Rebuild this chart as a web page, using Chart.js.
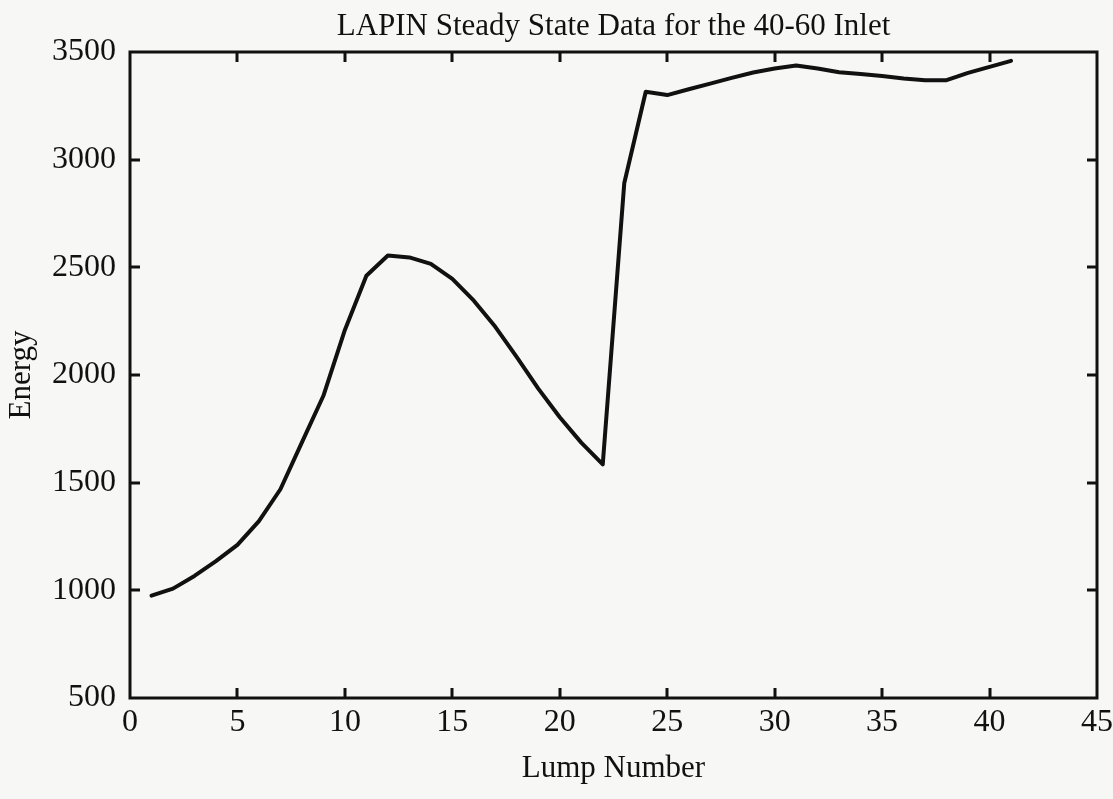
<!DOCTYPE html>
<html>
<head>
<meta charset="utf-8">
<script src="https://cdn.jsdelivr.net/npm/chart.js@4/dist/chart.umd.min.js"></script>
<style>
  html, body { margin: 0; padding: 0; background: #f7f7f5; }
  #wrap { width: 1113px; height: 799px; }
</style>
</head>
<body>
<div id="wrap"><canvas id="c" width="1113" height="799"></canvas></div>
<script>
// ---- Data ----
const lumps = [1, 2, 3, 4, 5, 6, 7, 8, 9, 10, 11, 12, 13, 14, 15, 16, 17, 18, 19, 20,
               21, 22, 23, 24, 25, 26, 27, 28, 29, 30, 31, 32, 33, 34, 35, 36, 37, 38, 39, 40, 41];
const energy = [975, 1008, 1066.91, 1135.27, 1211.38, 1321.41, 1469.42, 1687.08, 1903.51, 2209.09,
                2460.65, 2555.09, 2546.03, 2515.90, 2446.01, 2345.17, 2223.74, 2083.06, 1936.73, 1804.08,
                1685.80, 1585, 2890.29, 3315.29, 3300, 3327, 3353, 3380, 3405, 3423,
                3437, 3423, 3406, 3398, 3389, 3377, 3369, 3369, 3403, 3431, 3459];
const xTickValues = [0, 5, 10, 15, 20, 25, 30, 35, 40, 45];
const yTickValues = [500, 1000, 1500, 2000, 2500, 3000, 3500];
const titleText = 'LAPIN Steady State Data for the 40-60 Inlet';
const xTitle = 'Lump Number';
const yTitle = 'Energy';

const FONT = "'Liberation Serif', 'Times New Roman', serif";
const INK = '#111111';

const points = lumps.map((x, i) => ({ x: x, y: energy[i] }));

// Frame + inward tick marks on all four sides
const framePlugin = {
  id: 'frame',
  afterDraw(chart) {
    const { ctx, chartArea: a, scales } = chart;
    ctx.save();
    ctx.strokeStyle = INK;
    ctx.lineWidth = 3;
    const tl = 10;
    ctx.beginPath();
    scales.x.ticks.forEach(t => {
      if (t.value <= scales.x.min || t.value >= scales.x.max) return;
      const px = Math.round(scales.x.getPixelForValue(t.value));
      ctx.moveTo(px, a.bottom); ctx.lineTo(px, a.bottom - tl);
      ctx.moveTo(px, a.top); ctx.lineTo(px, a.top + tl);
    });
    scales.y.ticks.forEach(t => {
      if (t.value <= scales.y.min || t.value >= scales.y.max) return;
      const py = Math.round(scales.y.getPixelForValue(t.value));
      ctx.moveTo(a.left, py); ctx.lineTo(a.left + tl, py);
      ctx.moveTo(a.right, py); ctx.lineTo(a.right - tl, py);
    });
    ctx.stroke();
    ctx.lineJoin = 'miter';
    ctx.strokeRect(a.left, a.top, a.right - a.left, a.bottom - a.top);
    ctx.restore();
  }
};

new Chart(document.getElementById('c'), {
  type: 'line',
  data: {
    datasets: [{
      data: points,
      borderColor: INK,
      borderWidth: 4,
      pointRadius: 0,
      tension: 0,
      borderJoinStyle: 'round',
      borderCapStyle: 'round',
      fill: false
    }]
  },
  options: {
    responsive: false,
    devicePixelRatio: 1,
    animation: false,
    layout: { padding: { left: 0, right: 16, top: 0, bottom: 0 } },
    plugins: {
      legend: { display: false },
      tooltip: { enabled: false },
      title: {
        display: true,
        text: titleText,
        fullSize: false,
        color: INK,
        font: { family: FONT, size: 31, weight: 'normal' },
        padding: { top: 8, bottom: 6.8 }
      }
    },
    scales: {
      x: {
        type: 'linear',
        min: 0, max: 45,
        afterBuildTicks: s => { s.ticks = xTickValues.map(v => ({ value: v })); },
        afterFit: s => { s.height = 101; s.paddingLeft = 0; s.paddingRight = 0; },
        grid: { display: false, drawTicks: false },
        border: { display: false },
        ticks: {
          color: INK,
          padding: 5,
          maxRotation: 0,
          autoSkip: false,
          font: { family: FONT, size: 32 },
          callback: v => String(v)
        },
        title: {
          display: true, text: xTitle, color: INK,
          font: { family: FONT, size: 31 },
          padding: { top: 0, bottom: 12 }
        }
      },
      y: {
        type: 'linear',
        min: 500, max: 3500,
        afterBuildTicks: s => { s.ticks = yTickValues.map(v => ({ value: v })); },
        afterFit: s => { s.width = 130; s.paddingTop = 0; s.paddingBottom = 0; },
        grid: { display: false, drawTicks: false },
        border: { display: false },
        ticks: {
          color: INK,
          padding: 14,
          autoSkip: false,
          font: { family: FONT, size: 32 },
          callback: v => String(v)
        },
        title: {
          display: true, text: yTitle, color: INK,
          font: { family: FONT, size: 31 },
          padding: { top: 3, bottom: 0 }
        }
      }
    }
  },
  plugins: [framePlugin]
});
</script>
</body>
</html>
